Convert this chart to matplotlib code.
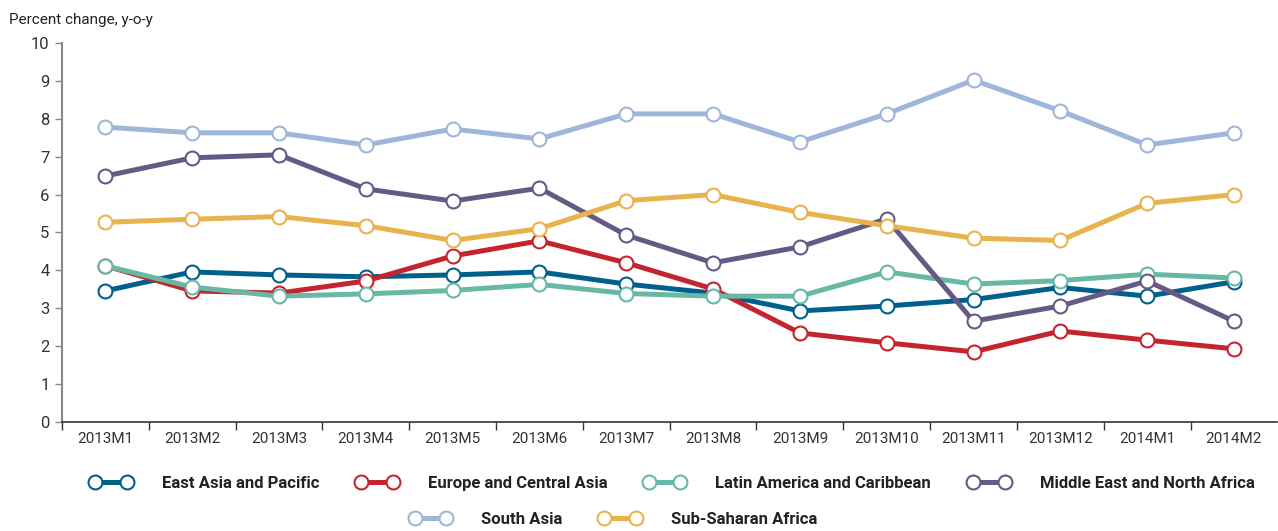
import matplotlib
matplotlib.use('Agg')
import matplotlib.pyplot as plt

plt.rcParams['font.family'] = ['Roboto', 'DejaVu Sans']

months = ['2013M1', '2013M2', '2013M3', '2013M4', '2013M5', '2013M6', '2013M7',
          '2013M8', '2013M9', '2013M10', '2013M11', '2013M12', '2014M1', '2014M2']

east_asia = [3.46, 3.96, 3.88, 3.83, 3.88, 3.96, 3.64, 3.40, 2.93, 3.06, 3.23, 3.55, 3.32, 3.70]
europe_ca = [4.12, 3.46, 3.40, 3.72, 4.38, 4.78, 4.20, 3.51, 2.35, 2.09, 1.85, 2.40, 2.16, 1.93]
latin_am = [4.12, 3.56, 3.32, 3.38, 3.47, 3.63, 3.39, 3.32, 3.32, 3.96, 3.64, 3.73, 3.90, 3.80]
mena = [6.49, 6.97, 7.05, 6.15, 5.83, 6.17, 4.93, 4.20, 4.62, 5.36, 2.66, 3.06, 3.72, 2.66]
south_asia = [7.78, 7.63, 7.63, 7.31, 7.73, 7.47, 8.13, 8.13, 7.39, 8.13, 9.02, 8.21, 7.31, 7.63]
ssa = [5.27, 5.35, 5.42, 5.18, 4.79, 5.10, 5.84, 6.00, 5.53, 5.18, 4.85, 4.79, 5.77, 6.00]

series = [
    ('East Asia and Pacific', east_asia, '#00608c'),
    ('Europe and Central Asia', europe_ca, '#c4242d'),
    ('Latin America and Caribbean', latin_am, '#68b8a5'),
    ('Middle East and North Africa', mena, '#655a85'),
    ('South Asia', south_asia, '#9fb5d9'),
    ('Sub-Saharan Africa', ssa, '#e8b34d'),
]

fig = plt.figure(figsize=(12.78, 5.31), dpi=100)
ax = fig.add_axes([0.0485, 0.2053, 0.951, 0.7137])

x = list(range(len(months)))
handles = []
for name, vals, col in series:
    ln, = ax.plot(x, vals, color=col, linewidth=3.6, marker='o', markersize=10,
                  markerfacecolor='white', markeredgecolor=col, markeredgewidth=1.5,
                  label=name, clip_on=False)
    handles.append(ln)

ax.set_xlim(-0.5, 13.5)
ax.set_ylim(0, 10)
ax.set_yticks(range(0, 11))
ax.set_xticks(x)
ax.set_xticklabels(months)
ax.set_xticks([i - 0.5 for i in range(14)], minor=True)
ax.tick_params(axis='x', which='major', length=0, pad=7, labelsize=11, labelcolor='#333333')
ax.tick_params(axis='x', which='minor', length=6, direction='out', color='#333333', width=1)
ax.tick_params(axis='y', length=5, direction='out', color='#888888', width=1,
               labelsize=12, labelcolor='#333333', pad=4)

for s in ['top', 'right']:
    ax.spines[s].set_visible(False)
ax.spines['left'].set_color('#888888')
ax.spines['left'].set_linewidth(1.5)
ax.spines['bottom'].set_color('#333333')
ax.spines['bottom'].set_linewidth(1.2)

fig.text(0.007, 0.962, 'Percent change, y-o-y', fontsize=11, color='#222222',
         ha='left', va='center')

leg_kw = dict(frameon=False, numpoints=2, handlelength=2.5, handletextpad=1.8,
              columnspacing=2.2, prop={'weight': 'bold', 'size': 12})
leg1 = fig.legend(handles=handles[:4], loc='center', ncol=4,
                  bbox_to_anchor=(0.526, 0.09), **leg_kw)
for t in leg1.get_texts():
    t.set_color('#222222')
leg2 = fig.legend(handles=handles[4:], loc='center', ncol=2,
                  bbox_to_anchor=(0.48, 0.022), **leg_kw)
for t in leg2.get_texts():
    t.set_color('#222222')

fig.savefig('out.png', dpi=100, facecolor='white')
